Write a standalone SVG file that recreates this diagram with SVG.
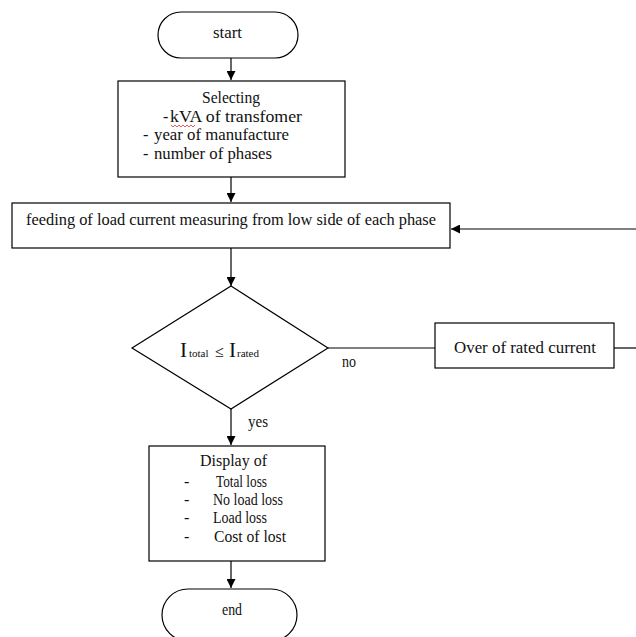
<svg xmlns="http://www.w3.org/2000/svg" width="636" height="637" viewBox="0 0 636 637">
<style>
.s{fill:#fff;stroke:#000;stroke-width:1.2}
.c{fill:none;stroke:#000;stroke-width:1.2}
text{font-family:"Liberation Serif","Times New Roman",serif;font-size:16px;fill:#111}
.big{font-size:21px}
.sub{font-size:11px}
</style>
<defs>
<marker id="ah" viewBox="0 0 10 10" refX="10" refY="5" markerWidth="9" markerHeight="9" markerUnits="userSpaceOnUse" orient="auto">
<path d="M0,0 L10,5 L0,10 z" fill="#000"/>
</marker>
</defs>
<rect width="636" height="637" fill="#fff"/>
<g id="connectors">
<line class="c" x1="231" y1="58" x2="231" y2="80" marker-end="url(#ah)"/>
<line class="c" x1="231" y1="177" x2="231" y2="202" marker-end="url(#ah)"/>
<line class="c" x1="231" y1="248" x2="231" y2="286" marker-end="url(#ah)"/>
<line class="c" x1="231" y1="409" x2="231" y2="445" marker-end="url(#ah)"/>
<line class="c" x1="231" y1="561" x2="231" y2="588" marker-end="url(#ah)"/>
<line class="c" x1="328" y1="348" x2="435" y2="348"/>
<line class="c" x1="614" y1="348" x2="636" y2="348"/>
<line class="c" x1="636" y1="229" x2="451" y2="229" marker-end="url(#ah)"/>
<text x="342" y="367" textLength="14" lengthAdjust="spacingAndGlyphs">no</text>
<text x="248" y="427" textLength="20" lengthAdjust="spacingAndGlyphs">yes</text>
</g>
<g id="start">
<rect class="s" x="158" y="12" width="140" height="46" rx="23" ry="23"/>
<text x="213" y="38" textLength="29" lengthAdjust="spacingAndGlyphs">start</text>
</g>
<g id="selecting">
<rect class="s" x="118" y="81" width="227" height="96"/>
<text x="202" y="103" textLength="58" lengthAdjust="spacingAndGlyphs">Selecting</text>
<text x="163" y="122">-</text>
<text x="170" y="122" textLength="132" lengthAdjust="spacingAndGlyphs">kVA of transfomer</text>
<path d="M171,125 l2,2 l2,-2 l2,2 l2,-2 l2,2 l2,-2 l2,2 l2,-2 l2,2 l2,-2 l2,2 l2,-2" fill="none" stroke="#d33" stroke-width="0.8"/>
<text x="143" y="140">-</text>
<text x="154" y="140" textLength="135" lengthAdjust="spacingAndGlyphs">year of manufacture</text>
<text x="143" y="159">-</text>
<text x="154" y="159" textLength="118" lengthAdjust="spacingAndGlyphs">number of phases</text>
</g>
<g id="feeding">
<rect class="s" x="12" y="203" width="438" height="45"/>
<text x="26" y="225" textLength="410" lengthAdjust="spacingAndGlyphs">feeding of load current measuring from low side of each phase</text>
</g>
<g id="decision">
<polygon class="s" points="231,286 328,348 231,409 132,348"/>
<text class="big" x="180" y="357">I</text>
<text class="sub" x="189" y="357">total</text>
<text x="215" y="357">≤</text>
<text class="big" x="229" y="357">I</text>
<text class="sub" x="237" y="357">rated</text>
</g>
<g id="over">
<rect class="s" x="435" y="323" width="179" height="45"/>
<text x="454" y="353" textLength="142" lengthAdjust="spacingAndGlyphs">Over of rated current</text>
</g>
<g id="display">
<rect class="s" x="149" y="446" width="176" height="115"/>
<text x="200" y="466" textLength="67" lengthAdjust="spacingAndGlyphs">Display of</text>
<text x="184" y="487">-</text>
<text x="216" y="487" textLength="51" lengthAdjust="spacingAndGlyphs">Total loss</text>
<text x="184" y="505">-</text>
<text x="213" y="505" textLength="70" lengthAdjust="spacingAndGlyphs">No load loss</text>
<text x="184" y="523">-</text>
<text x="213" y="523" textLength="54" lengthAdjust="spacingAndGlyphs">Load loss</text>
<text x="184" y="542">-</text>
<text x="214" y="542" textLength="72" lengthAdjust="spacingAndGlyphs">Cost of lost</text>
</g>
<g id="end">
<rect class="s" x="162" y="589" width="135" height="52" rx="26" ry="26"/>
<text x="222" y="615" textLength="20" lengthAdjust="spacingAndGlyphs">end</text>
</g>
</svg>
